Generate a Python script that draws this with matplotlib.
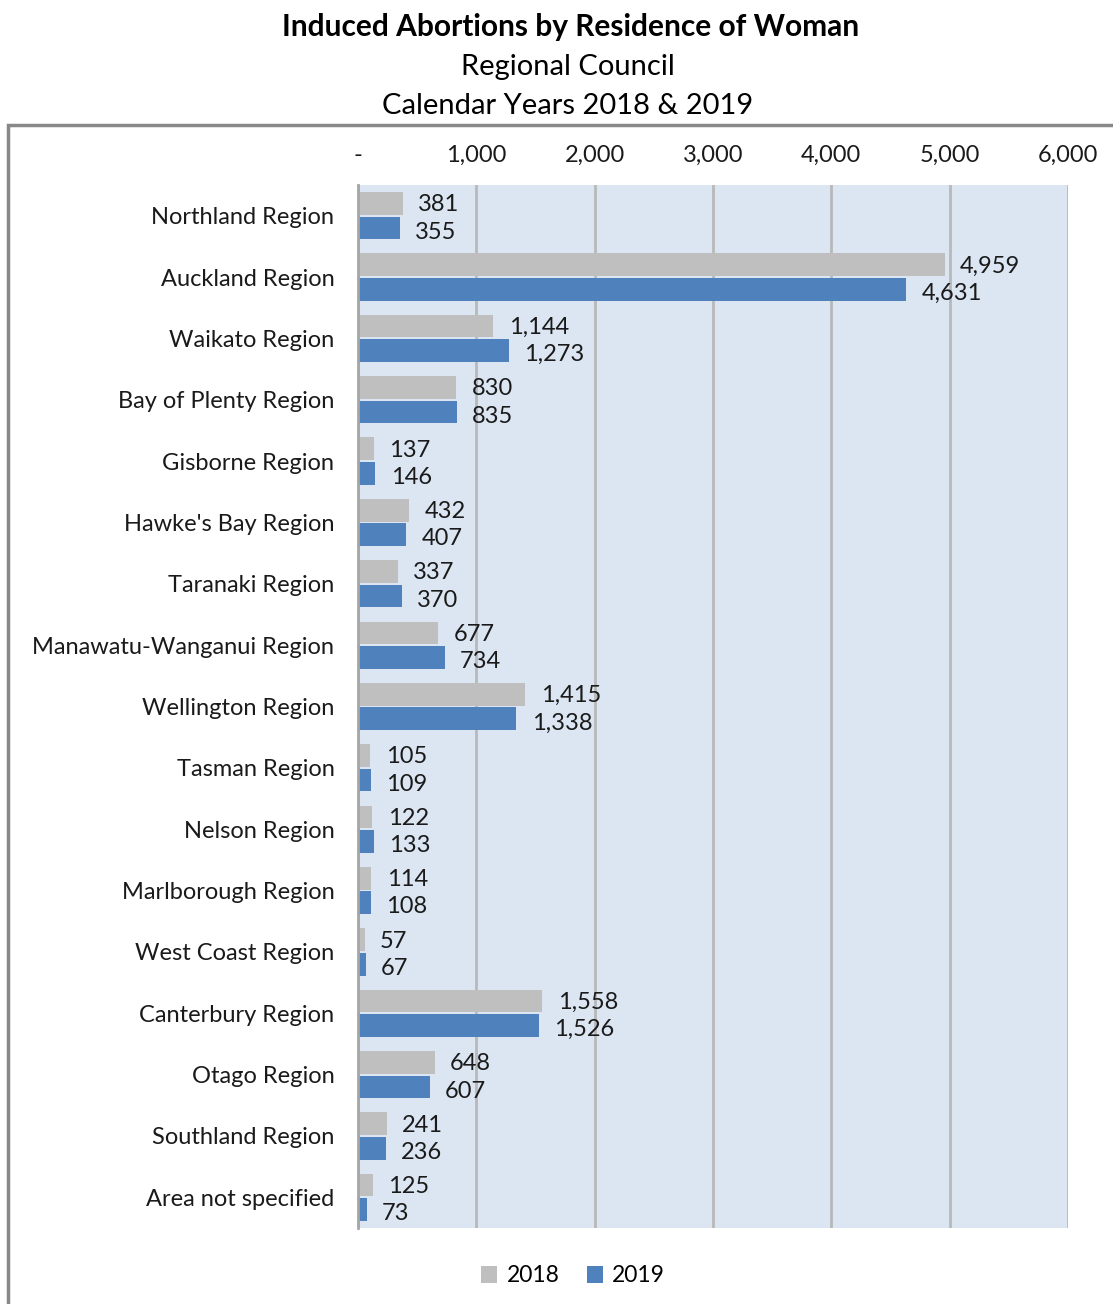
import numpy as np
import matplotlib.pyplot as plt
from matplotlib.patches import Rectangle

plt.rcParams['font.family'] = ['Lato', 'DejaVu Sans']

regions = ["Northland Region", "Auckland Region", "Waikato Region", "Bay of Plenty Region",
           "Gisborne Region", "Hawke's Bay Region", "Taranaki Region", "Manawatu-Wanganui Region",
           "Wellington Region", "Tasman Region", "Nelson Region", "Marlborough Region",
           "West Coast Region", "Canterbury Region", "Otago Region", "Southland Region",
           "Area not specified"]
y2018 = [381, 4959, 1144, 830, 137, 432, 337, 677, 1415, 105, 122, 114, 57, 1558, 648, 241, 125]
y2019 = [355, 4631, 1273, 835, 146, 407, 370, 734, 1338, 109, 133, 108, 67, 1526, 607, 236, 73]
ticks = [0, 1000, 2000, 3000, 4000, 5000, 6000]
tick_labels = ["-", "1,000", "2,000", "3,000", "4,000", "5,000", "6,000"]

grey = "#BFBFBF"
blue = "#4F81BD"

fig = plt.figure(figsize=(11.13, 13.04), dpi=100)
W, H = 1113, 1304
ax = fig.add_axes([358 / W, 1 - 1228 / H, (1068 - 358) / W, (1228 - 185) / H])
ax.set_facecolor("#DCE6F2")

pos = np.arange(len(regions))
h = 0.37
ax.barh(pos - 0.2, y2018, height=h, color=grey, label="2018", zorder=3)
ax.barh(pos + 0.2, y2019, height=h, color=blue, label="2019", zorder=3)

# value labels just past the end of each bar
for p, a, b in zip(pos, y2018, y2019):
    ax.annotate(f"{a:,}", (a, p - 0.2), xytext=(11, -1), textcoords="offset points",
                va="center", ha="left", fontsize=17, color="#1a1a1a", zorder=4)
    ax.annotate(f"{b:,}", (b, p + 0.2), xytext=(11, -3), textcoords="offset points",
                va="center", ha="left", fontsize=17, color="#1a1a1a", zorder=4)

ax.set_xlim(0, 6000)
ax.set_ylim(len(regions) - 0.5, -0.5)
ax.set_xticks(ticks)
ax.set_xticklabels(tick_labels)
ax.set_yticks(pos)
ax.set_yticklabels(regions)
ax.xaxis.tick_top()
ax.tick_params(axis="x", length=0, pad=14, labelsize=17, colors="#1a1a1a")
ax.tick_params(axis="y", length=0, pad=17, labelsize=17, colors="#1a1a1a")
ax.grid(axis="x", color="#B8B8B8", linewidth=2, zorder=1)
for s in ["top", "right", "bottom"]:
    ax.spines[s].set_visible(False)
ax.spines["left"].set_color("#A6A6A6")
ax.spines["left"].set_linewidth(2)
ax.spines["left"].set_zorder(5)

# outer chart frame, runs off the right and bottom edges
fig.patches.append(Rectangle((8 / W, -0.05), 1.1, 1 - 125 / H + 0.05, transform=fig.transFigure,
                             fill=False, edgecolor="#888888", linewidth=2.5, clip_on=False))

fig.text(0.513, 1 - 27 / H, "Induced Abortions by Residence of Woman", ha="center", va="center",
         fontsize=21.5, fontweight="bold", color="black")
fig.text(0.51, 1 - 67 / H, "Regional Council", ha="center", va="center", fontsize=21)
fig.text(0.51, 1 - 106 / H, "Calendar Years 2018 & 2019", ha="center", va="center", fontsize=21)

fig.legend(loc="center", bbox_to_anchor=(573 / W, 1 - 1276 / H), ncol=2, frameon=False,
           fontsize=16.5, handlelength=0.7, handleheight=0.7, handletextpad=0.4, columnspacing=1.2)

fig.savefig("out.png", dpi=100)
